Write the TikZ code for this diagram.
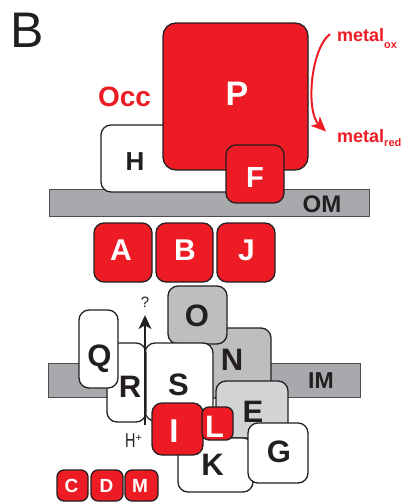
\documentclass[tikz,border=0pt]{standalone}
\usepackage{fontspec}
\setmainfont{Liberation Sans}
\usetikzlibrary{arrows.meta}
\definecolor{ored}{HTML}{ED1C24}
\definecolor{dk}{HTML}{231F20}
\definecolor{bar}{HTML}{A7A9AC}
\definecolor{gmid}{HTML}{BCBEC0}
\definecolor{glt}{HTML}{D1D3D4}
\tikzset{
  bx/.style={draw=dk, line width=1.3pt, rounded corners=10pt, inner sep=0pt},
  bigbx/.style={bx, rounded corners=13pt},
  smbx/.style={bx, rounded corners=7pt},
  barbox/.style={draw=dk!80, line width=0.6pt, fill=bar, inner sep=0pt},
  lab/.style={inner sep=0pt, anchor=base, font=\bfseries\fontsize{31}{31}\selectfont},
  wlab/.style={lab, text=white},
  dlab/.style={lab, text=dk},
}
\begin{document}
\begin{tikzpicture}[x=1pt,y=-1pt]
\useasboundingbox (0,0) rectangle (404,504);
% letter
\node[inner sep=0pt, anchor=base, text=dk, font=\fontsize{50}{50}\selectfont] (panel) at (27.5,47.5) {B};
% outer membrane
\node[barbox, minimum width=320pt, minimum height=27pt] (OMbar) at (209,202.5) {};
\node[bx, fill=white, minimum width=139pt, minimum height=67pt] (H) at (170.5,158.5) {};
\node[bigbx, fill=ored, minimum width=145pt, minimum height=147pt] (P) at (235.5,96.5) {};
\node[bx, fill=ored, minimum width=58pt, minimum height=58pt] (F) at (255,174) {};
\node[dlab, font=\bfseries\fontsize{26}{26}\selectfont] (Ht) at (135,170) {H};
\node[wlab, font=\bfseries\fontsize{34}{34}\selectfont] (Pt) at (237,105) {P};
\node[wlab, font=\bfseries\fontsize{29}{29}\selectfont] (Ft) at (255,187) {F};
\node[dlab, font=\bfseries\fontsize{24}{24}\selectfont] (OMt) at (322,212) {OM};
\node[lab, text=ored, font=\bfseries\fontsize{28}{28}\selectfont] (Occ) at (124.5,106) {Occ};
% metal
\node[inner sep=0pt, anchor=base west, text=ored, font=\bfseries\fontsize{18}{18}\selectfont] (mox) at (337,41) {metal\raisebox{-7pt}{\fontsize{11}{11}\selectfont ox}};
\node[inner sep=0pt, anchor=base west, text=ored, font=\bfseries\fontsize{18}{18}\selectfont] (mred) at (337,142) {metal\raisebox{-4pt}{\fontsize{11}{11}\selectfont red}};
\draw[ored, line width=2pt, -{Stealth[length=15pt,width=13pt,inset=4pt]}]
  ([shift={(-7,-4)}]mox.west) .. controls (310,50) and (306,112) .. ([shift={(-11,-6)}]mred.west);
% A B J
\node[bx, fill=ored, minimum width=58pt, minimum height=59pt] (A) at (123,252.5) {};
\node[bx, fill=ored, minimum width=57pt, minimum height=59pt] (B) at (184.5,252.5) {};
\node[bx, fill=ored, minimum width=58pt, minimum height=59pt] (J) at (246,252.5) {};
\node[wlab, font=\bfseries\fontsize{30}{30}\selectfont] (At) at (121,260) {A};
\node[wlab, font=\bfseries\fontsize{30}{30}\selectfont] (Bt) at (185,260) {B};
\node[wlab, font=\bfseries\fontsize{30}{30}\selectfont] (Jt) at (246.5,260) {J};
% inner membrane
\node[barbox, minimum width=312pt, minimum height=34pt] (IMbar) at (204,380) {};
\node[dlab, font=\bfseries\fontsize{23}{23}\selectfont] (IMt) at (321,388) {IM};
\node[bx, fill=gmid, minimum width=78pt, minimum height=70pt] (N) at (232,363) {};
\node[bx, fill=gmid, minimum width=59pt, minimum height=58pt] (O) at (197.5,315) {};
\node[bx, fill=white, minimum width=68pt, minimum height=78pt] (S) at (179,382) {};
\node[bx, fill=white, minimum width=39pt, minimum height=79pt] (R) at (126.5,382.5) {};
\node[bx, fill=white, minimum width=39pt, minimum height=78pt] (Q) at (98.5,349) {};
\node[bx, fill=glt, minimum width=72pt, minimum height=57pt] (E) at (252,409.5) {};
\node[bx, fill=white, minimum width=75pt, minimum height=54pt] (K) at (215.5,465) {};
\node[bx, fill=white, minimum width=60pt, minimum height=60pt] (G) at (278,453) {};
\node[bx, fill=ored, minimum width=51pt, minimum height=52pt] (I) at (177.5,429) {};
\node[smbx, fill=ored, minimum width=31pt, minimum height=33pt] (L) at (217.5,423.5) {};
\node[dlab] (Nt) at (232,370) {N};
\node[dlab] (Ot) at (197,326) {O};
\node[dlab] (St) at (178.5,395) {S};
\node[dlab] (Rt) at (130,397) {R};
\node[dlab] (Qt) at (99.5,366) {Q};
\node[dlab] (Et) at (253,422) {E};
\node[dlab] (Kt) at (212.5,475) {K};
\node[dlab] (Gt) at (279,462) {G};
\node[wlab, font=\bfseries\fontsize{33}{33}\selectfont] (It) at (174,442) {I};
\node[wlab] (Lt) at (214.5,437) {L};
% proton arrow
\coordinate (hp) at (145,425);
\node[inner sep=0pt, anchor=base, text=dk, font=\fontsize{15}{15}\selectfont] (qm) at (145,307) {?};
\draw[dk, line width=1.3pt, -{Stealth[length=14pt,width=13pt,inset=4pt]}] (hp) -- ([yshift=-8pt]qm.south);
\node[inner sep=0pt, anchor=base west, text=dk, font=\fontsize{20}{20}\selectfont] (Hp) at (125,447.5) {\scalebox{0.72}[1]{H}\raisebox{6pt}{\fontsize{11}{11}\selectfont +}};
% C D M
\node[smbx, fill=ored, minimum width=31pt, minimum height=31pt] (C) at (72.5,485.5) {};
\node[smbx, fill=ored, minimum width=32pt, minimum height=31pt] (D) at (107,485.5) {};
\node[smbx, fill=ored, minimum width=33pt, minimum height=31pt] (M) at (141.5,485.5) {};
\node[wlab, font=\bfseries\fontsize{19}{19}\selectfont] (Ct) at (71.5,492) {C};
\node[wlab, font=\bfseries\fontsize{19}{19}\selectfont] (Dt) at (106.5,492) {D};
\node[wlab, font=\bfseries\fontsize{19}{19}\selectfont] (Mt) at (140,492) {M};
\end{tikzpicture}
\end{document}
